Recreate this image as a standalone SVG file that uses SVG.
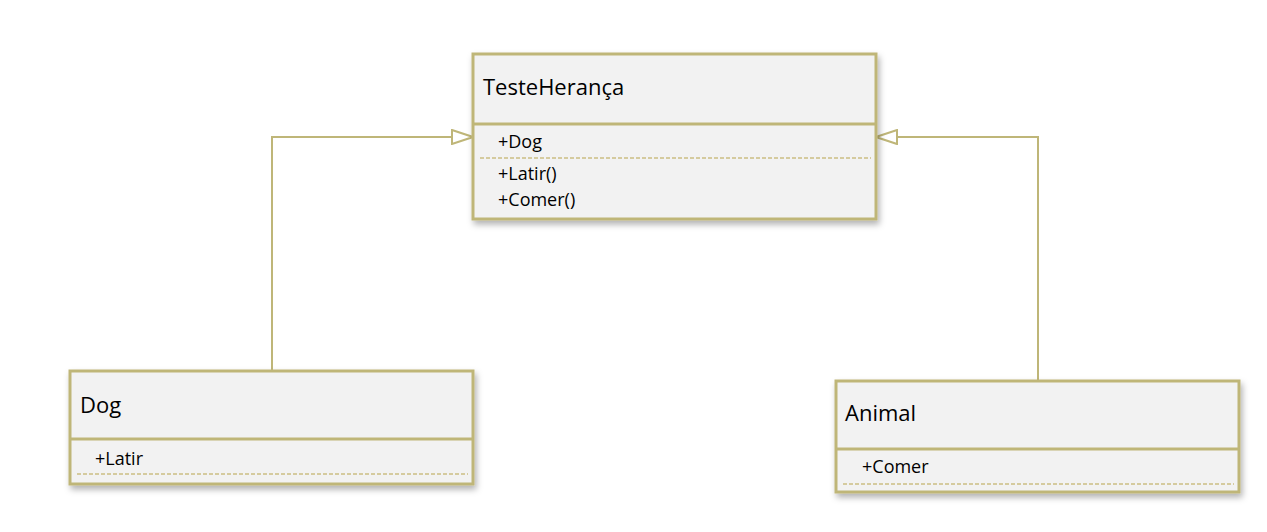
<svg xmlns="http://www.w3.org/2000/svg" width="1267" height="532" viewBox="0 0 1267 532">
<style>
.box{fill:#F2F2F2;stroke:#BFB678;stroke-width:3}
.div{stroke:#BFB678;stroke-width:3}
.dash{stroke:#CBBF84;stroke-width:1.5;stroke-dasharray:4 2}
.conn{fill:none;stroke:#BFB678;stroke-width:2}
.title{font-family:"Open Sans","Liberation Sans",sans-serif;font-size:22px;fill:#000}
.item{font-family:"Open Sans","Liberation Sans",sans-serif;font-size:18px;fill:#000}
</style>
<defs>
<filter id="sh" x="-10%" y="-10%" width="120%" height="130%">
<feDropShadow dx="2" dy="4" stdDeviation="3" flood-color="#000" flood-opacity="0.3"/>
</filter>
<marker id="tri" markerWidth="24" markerHeight="16" refX="22" refY="8" orient="auto" markerUnits="userSpaceOnUse">
<path d="M1,1 L22,8 L1,15 Z" fill="#fff" stroke="#BFB678" stroke-width="2"/>
</marker>
</defs>
<rect width="1267" height="532" fill="#fff"/>
<g id="connectors">
<path class="conn" d="M272,370 V137 H473" marker-end="url(#tri)"/>
<path class="conn" d="M1038,380 V137 H876" marker-end="url(#tri)"/>
</g>
<g id="TesteHeranca">
<rect class="box" x="473" y="54" width="403" height="165" filter="url(#sh)"/>
<line class="div" x1="473" y1="124" x2="876" y2="124"/>
<line class="dash" x1="480" y1="158" x2="871" y2="158"/>
<text class="title" x="483" y="95">TesteHerança</text>
<text class="item" x="498" y="148">+Dog</text>
<text class="item" x="498" y="180">+Latir()</text>
<text class="item" x="498" y="206">+Comer()</text>
</g>
<g id="Dog">
<rect class="box" x="70" y="371" width="403" height="113" filter="url(#sh)"/>
<line class="div" x1="70" y1="439" x2="473" y2="439"/>
<line class="dash" x1="77" y1="474" x2="468" y2="474"/>
<text class="title" x="80" y="413">Dog</text>
<text class="item" x="95" y="465">+Latir</text>
</g>
<g id="Animal">
<rect class="box" x="836" y="381" width="403" height="111" filter="url(#sh)"/>
<line class="div" x1="836" y1="449" x2="1239" y2="449"/>
<line class="dash" x1="843" y1="484" x2="1234" y2="484"/>
<text class="title" x="845" y="421">Animal</text>
<text class="item" x="862" y="473">+Comer</text>
</g>
</svg>
